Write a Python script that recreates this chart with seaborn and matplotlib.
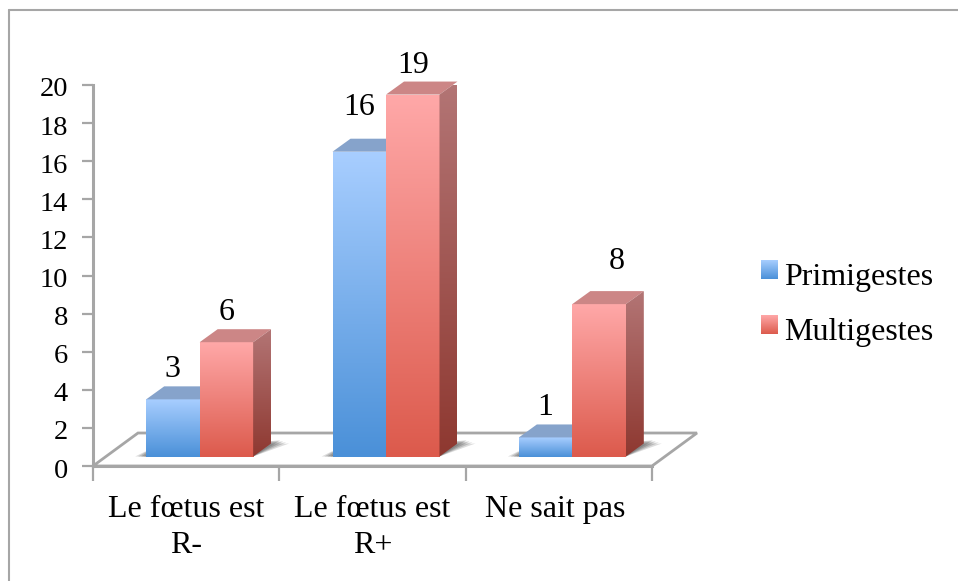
import numpy as np
import pandas as pd
import seaborn as sns
import matplotlib.pyplot as plt
from matplotlib.colors import LinearSegmentedColormap
from matplotlib.lines import Line2D
from matplotlib.patches import Polygon
from matplotlib.transforms import Affine2D, IdentityTransform

categories = ["Le fœtus est\nR-", "Le fœtus est\nR+", "Ne sait pas"]
primigestes = [3, 16, 1]
multigestes = [6, 19, 8]
groups = ["Primigestes", "Multigestes"]
y_ticks = list(range(0, 21, 2))

W, H = 958, 581
GRAY = "#a6a6a6"
DEPTH_X, DEPTH_Y = 18, 13
SHIFT_X, SHIFT_Y = 13.5, 9.5
FACE = {
    "Primigestes": {"front": ("#a8ceff", "#4a90d8"), "top": "#86a3cb", "mean": "#79aeeb"},
    "Multigestes": {"front": ("#ffa8a8", "#dc5a4c"), "top": "#cc8686", "mean": "#ed817a"},
}
SIDE = ("#b37575", "#8e3830")

sns.set_theme(style="ticks")
plt.rcParams["font.family"] = ["Liberation Serif", "DejaVu Serif"]
plt.rcParams["text.color"] = "black"
plt.rcParams["xtick.labelcolor"] = "black"
plt.rcParams["ytick.labelcolor"] = "black"

df = pd.DataFrame({
    "reponse": categories * 2,
    "effectif": primigestes + multigestes,
    "groupe": [groups[0]] * 3 + [groups[1]] * 3,
})

fig = plt.figure(figsize=(W / 100, H / 100), dpi=100)
ax = fig.add_axes([93 / W, 1 - 466 / H, (652 - 93) / W, (466 - 85) / H])
palette = {g: FACE[g]["mean"] for g in groups}
sns.barplot(data=df, x="reponse", y="effectif", hue="groupe", hue_order=groups,
            order=categories, palette=palette, width=0.574, gap=0, ax=ax,
            linewidth=0, errorbar=None)
ax.set_xlim(-0.5, 2.5)
ax.set_ylim(0, 20)
ax.set_xlabel("")
ax.set_ylabel("")
ax.set_yticks(y_ticks)
ax.set_xticks([-0.5, 0.5, 1.5, 2.5], labels=[""] * 4)
ax.set_xticks([0, 1, 2], labels=categories, minor=True)
ax.patch.set_alpha(0)
ax.tick_params(axis="y", length=8, width=1.6, color=GRAY, labelsize=20.5, pad=10)
ax.tick_params(axis="x", which="major", length=11, width=1.6, color=GRAY)
ax.tick_params(axis="x", which="minor", length=0, labelsize=23, pad=21)
for lab in ax.get_xticklabels(minor=True):
    lab.set_linespacing(1.3)
# "Ne sait pas" est un peu decale a gauche dans l'original
last = ax.get_xticklabels(minor=True)[-1]
last.set_transform(last.get_transform() + Affine2D().translate(-4, 0))
for lab in ax.get_yticklabels():
    lab.set_transform(lab.get_transform() + Affine2D().translate(0, -2))
sns.despine(ax=ax)
for side in ["left", "bottom"]:
    ax.spines[side].set_color(GRAY)
    ax.spines[side].set_linewidth(2.2)

px = IdentityTransform()
grad = np.linspace(0, 1, 256).reshape(-1, 1)


def gradient(x0, x1, y0, y1, colors, zorder, clip=None):
    cmap = LinearSegmentedColormap.from_list("g", colors)
    im = ax.imshow(grad, extent=(x0, x1, y0, y1), aspect="auto", cmap=cmap,
                   origin="upper", transform=px, zorder=zorder)
    if clip is not None:
        im.set_clip_path(clip)
    else:
        im.set_clip_on(False)
    return im


# plancher de la perspective
x_left, y_zero = ax.transData.transform((-0.5, 0))
x_right, _ = ax.transData.transform((2.5, 0))
floor = Polygon([(x_left, y_zero), (x_left + 45, y_zero + 33), (x_right + 45, y_zero + 33),
                 (x_right, y_zero)], closed=True, facecolor="white", edgecolor=GRAY,
                linewidth=2, transform=px, zorder=0.5, clip_on=False)
ax.add_patch(floor)

shift = Affine2D().translate(SHIFT_X, SHIFT_Y)
z = 2
for group, container in zip(groups, ax.containers):
    for p in container:
        p.set_transform(ax.transData + shift)
        p.set_zorder(z)
        (x0, y0) = ax.transData.transform((p.get_x(), 0)) + (SHIFT_X, SHIFT_Y)
        (x1, y1) = ax.transData.transform((p.get_x() + p.get_width(), p.get_height())) + (SHIFT_X, SHIFT_Y)

        # ombre portee sur le plancher
        if group == groups[0]:
            pair_w = x1 - x0
            for k, alpha in zip([9, 6, 3, 0], [0.20, 0.25, 0.30, 0.30]):
                ax.add_patch(Polygon(
                    [(x0 - 2 - k, y0), (x0 + 2 * pair_w, y0),
                     (x0 + 2 * pair_w + DEPTH_X + 9 + k, y0 + 16 - k / 3), (x0 + 8 - k, y0 + 8 - k / 3)],
                    closed=True, facecolor="#555555", alpha=alpha, linewidth=0,
                    transform=px, zorder=0.8, clip_on=False))

        gradient(x0, x1, y0, y1, FACE[group]["front"], z + 0.1)
        top = Polygon([(x0, y1), (x1, y1), (x1 + DEPTH_X, y1 + DEPTH_Y), (x0 + DEPTH_X, y1 + DEPTH_Y)],
                      closed=True, facecolor=FACE[group]["top"], linewidth=0, transform=px,
                      zorder=z + 0.1, clip_on=False)
        ax.add_patch(top)
        side_face = Polygon([(x1, y0), (x1 + DEPTH_X, y0 + DEPTH_Y), (x1 + DEPTH_X, y1 + DEPTH_Y), (x1, y1)],
                            closed=True, facecolor="none", linewidth=0, transform=px)
        ax.add_patch(side_face)
        gradient(x1, x1 + DEPTH_X, y0, y1 + DEPTH_Y, SIDE, z + 0.1, clip=side_face)
        z += 1

        # etiquette de valeur
        value = int(p.get_height())
        dx, dy = 0, 15
        if value == 16:
            dy = 30
        if value == 8 and group == groups[1]:
            dx, dy = 18, 28
        ax.annotate(str(value), xy=((x0 + x1) / 2, y1), xycoords=px, xytext=(dx, dy),
                    textcoords="offset pixels", ha="center", va="bottom", fontsize=23,
                    color="black", zorder=20, annotation_clip=False)

handles, labels = ax.get_legend_handles_labels()
leg = ax.legend(handles, labels, loc="upper left", bbox_to_anchor=(761 / W, 1 - 263 / H),
                bbox_transform=fig.transFigure, frameon=False, fontsize=23, borderpad=0,
                borderaxespad=0, handlelength=0.53, handleheight=0.53, handletextpad=0.2,
                labelspacing=0.81)
for h in leg.get_patches():
    h.set_y(h.get_y() + 3)
fig.canvas.draw()
for group, h in zip(groups, leg.get_patches()):
    bb = h.get_window_extent()
    gradient(bb.x0, bb.x1, bb.y0, bb.y1, FACE[group]["front"], 30)
    h.set_alpha(0)

# cadre du graphique
for xs, ys in [([9, 9], [10, H]), ([9, W], [10, 10])]:
    fig.add_artist(Line2D([x / W for x in xs], [1 - y / H for y in ys], color=GRAY, linewidth=1.5))

fig.savefig("out.png", dpi=100)
